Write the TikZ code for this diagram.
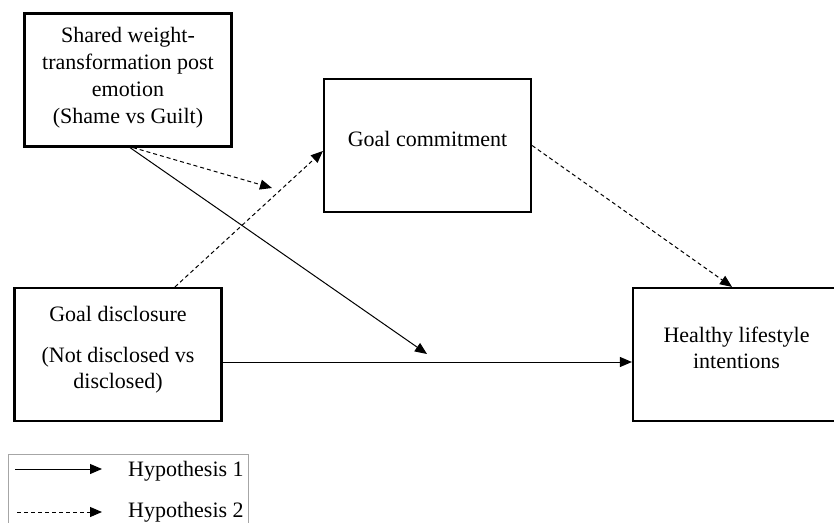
\documentclass[tikz,border=0pt]{standalone}
\usepackage{fontspec}
\setmainfont{Liberation Serif}
\usetikzlibrary{arrows.meta,calc}
\begin{document}
\begin{tikzpicture}[x=1pt,y=-1pt,
  every node/.style={font=\fontsize{22}{27}\selectfont},
  boxnode/.style={draw,line width=2.2pt,inner sep=0pt,minimum width=207pt,minimum height=133pt},
  txt/.style={anchor=base,inner sep=0pt},
  conn/.style={line width=1pt,-{Triangle[length=12pt,width=10pt]}},
  dsh/.style={conn,dash pattern=on 4pt off 3pt}]
\useasboundingbox (0,0) rectangle (834,522);
\clip (0,0) rectangle (834,522);
\fill[white] (0,0) rectangle (834,522);
% boxes
\node[boxnode] (b1) at (128,80) {};
\node[boxnode] (b2) at (427.5,145.5) {};
\node[boxnode] (b3) at (118,354.5) {};
\node[boxnode] (b4) at (736.5,354.5) {};
% texts
\node[txt] (t1a) at (128,42) {Shared weight-};
\node[txt] (t1b) at (128,69) {transformation post};
\node[txt] (t1c) at (128,96) {emotion};
\node[txt] (t1d) at (128,123) {(Shame vs Guilt)};
\node[txt] (t2) at (427.5,146) {Goal commitment};
\node[txt] (t3a) at (118,321) {Goal disclosure};
\node[txt] (t3b) at (118,362) {(Not disclosed vs};
\node[txt] (t3c) at (118,388) {disclosed)};
\node[txt] (t4a) at (736.5,342) {Healthy lifestyle};
\node[txt] (t4b) at (736.5,368) {intentions};
% free ends
\coordinate (h1end) at (427,354);
\coordinate (h2end) at (272,188);
% connectors
\draw[conn] ($(b1.south)+(2,0)$) -- (h1end);
\draw[dsh] ($(b1.south)+(5,0)$) -- (h2end);
\draw[dsh] ($(b3.north)+(57,0)$) -- ($(b2.west)+(0,5.5)$);
\draw[dsh] (b2.east) -- ($(b4.north)+(-4.5,0)$);
\draw[conn] ($(b3.east)+(0,7.5)$) -- ($(b4.west)+(0,7.5)$);
% legend
\draw[line width=1pt,gray!70] (8,454) rectangle (248,535);
\coordinate (l1s) at (15,469);
\coordinate (l1e) at (102,469);
\coordinate (l2s) at (17,512);
\coordinate (l2e) at (102,512);
\draw[conn] (l1s) -- (l1e);
\draw[dsh] (l2s) -- (l2e);
\node[txt,anchor=base west] (lg1) at (128,476) {Hypothesis 1};
\node[txt,anchor=base west] (lg2) at (128,517) {Hypothesis 2};
\end{tikzpicture}
\end{document}
